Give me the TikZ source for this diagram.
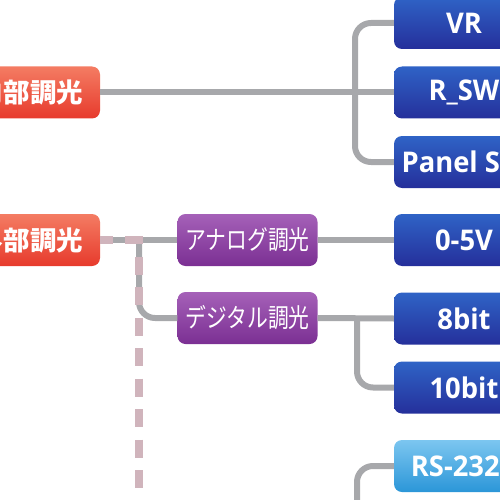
\documentclass[tikz,border=0pt]{standalone}
\usepackage{fontspec}
\usepackage{tikz}
\usetikzlibrary{positioning,calc}
\newfontfamily\jpfont{Noto Sans CJK JP}
\newfontfamily\jpnarrow{Noto Sans CJK JP}[FakeStretch=0.8]
\newfontfamily\labelfont{Open Sans}[FakeStretch=0.96]
\definecolor{linkgray}{RGB}{167,168,171}
\definecolor{dashpink}{RGB}{208,180,188}
\definecolor{redtop}{RGB}{244,124,99}
\definecolor{redbot}{RGB}{231,58,44}
\definecolor{purptop}{RGB}{165,97,184}
\definecolor{purpbot}{RGB}{123,47,147}
\definecolor{bluetop}{RGB}{47,99,198}
\definecolor{bluebot}{RGB}{37,47,155}
\definecolor{skytop}{RGB}{124,198,240}
\definecolor{skybot}{RGB}{43,150,216}

\begin{document}
\begin{tikzpicture}[x=1pt, y=-1pt,
    box/.style={rectangle, rounded corners=8pt, minimum width=140pt, minimum height=52pt, inner sep=0pt, align=center, text=white},
    mode/.style={box, top color=redtop, bottom color=redbot, font=\jpfont\bfseries\fontsize{26.5}{26.5}\selectfont},
    kind/.style={box, top color=purptop, bottom color=purpbot, font=\jpnarrow\fontsize{26}{26}\selectfont},
    signal/.style={box, top color=bluetop, bottom color=bluebot, font=\labelfont\bfseries\fontsize{28.5}{28.5}\selectfont},
    serial/.style={signal, top color=skytop, bottom color=skybot},
    link/.style={draw=linkgray, line width=6pt, rounded corners=16pt},
    altlink/.style={draw=dashpink, line width=8pt, dash pattern=on 18pt off 12.5pt, dash phase=5.5pt},
]
    \useasboundingbox (0,0) rectangle (500,500);
    \clip (0,0) rectangle (500,500);

    \node[mode] (inner) at (30, 92.5) {内部調光};
    \node[mode] (outer) at (30, 240) {外部調光};
    \node[kind] (analog) at (247.5, 240) {アナログ調光};
    \node[kind] (digital) at (247.5, 318) {デジタル調光};

    \node[signal] (vr) at (464, 23) {VR};
    \node[signal] (rsw) at (464, 92.5) {R\_SW};
    \node[signal] (panel) at (464, 162) {Panel SW};
    \node[signal] (v05) at (464, 240) {0-5V};
    \node[signal] (bit8) at (464, 318.5) {8bit};
    \node[signal] (bit10) at (464, 387.5) {10bit};
    \node[serial] (rs) at (464, 466) {RS-232C};

    \coordinate (fork1) at (355, 92.5);
    \coordinate (fork2) at (139, 240);
    \coordinate (fork3) at (357, 318.5);
    \coordinate (down1) at (357, 520);
    \coordinate (down2) at (139, 520);

    % internal dimming
    \draw[link] (inner.east) -- (rsw.west);
    \draw[link] (vr.west) -| (fork1) |- (panel.west);

    % external dimming
    \draw[link] (outer.east) -- (analog.west);
    \draw[link] (fork2) |- (digital.west);
    \draw[link] (analog.east) -- (v05.west);
    \draw[link] (digital.east) -- (bit8.west);
    \draw[link] (fork3) |- (bit10.west);
    \draw[link] (rs.west) -| (down1);
    \draw[altlink] (outer.east) -| (down2);
\end{tikzpicture}
\end{document}
